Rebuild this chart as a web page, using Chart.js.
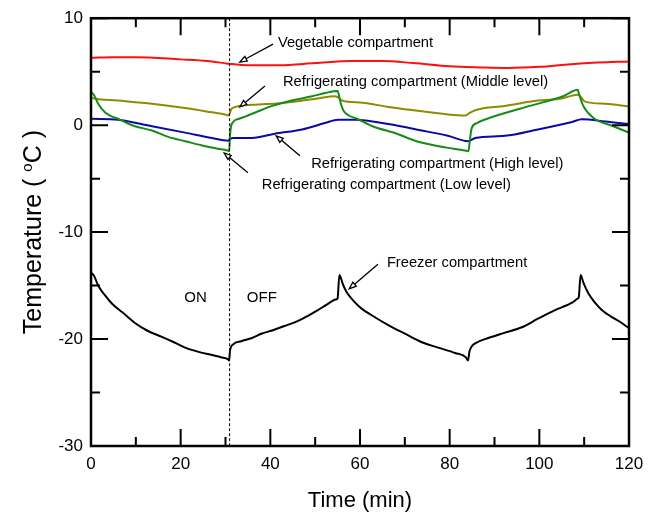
<!DOCTYPE html>
<html>
<head>
<meta charset="utf-8">
<script src="https://cdn.jsdelivr.net/npm/chart.js@4"></script>
<style>
  html, body { margin: 0; padding: 0; background: #fff; }
  #wrap { width: 661px; height: 516px; position: relative; }
</style>
</head>
<body>
<div id="wrap"><canvas id="chart"></canvas></div>
<script>
// time axis ticks (min) and temperature ticks (degC)
const xTicks = [0, 20, 40, 60, 80, 100, 120]
const yTicks = [-30, -20, -10, 0, 10]

// Vegetable compartment
const vegTime = [0, 5, 10, 20, 26, 30.6, 35, 42, 50, 58, 65, 72, 80, 87, 93, 100, 107, 113, 120]
const vegTemp = [6.3, 6.35, 6.35, 6.15, 6.0, 5.75, 5.6, 5.6, 5.8, 6.0, 6.0, 5.8, 5.5, 5.4, 5.35, 5.45, 5.7, 5.85, 5.95]

// Refrigerating compartment (Middle level)
const midTime = [0, 0.7, 6, 13.6, 21, 27, 29.9, 30.6, 31.5, 35.9, 43.3, 50.6, 54.4, 55.1, 56, 60.5, 66.3, 73.8, 79.6, 83.6, 84.3, 85.7, 92.3, 99.7, 105, 108.6, 110.2, 114.7, 120]
const midTemp = [2.6, 2.5, 2.3, 2.0, 1.6, 1.2, 1.0, 0.9, 1.6, 1.9, 2.1, 2.5, 2.7, 2.6, 2.3, 2.1, 1.7, 1.3, 1.0, 0.9, 1.1, 1.4, 1.8, 2.3, 2.5, 2.85, 2.2, 2.0, 1.75]

// Refrigerating compartment (High level)
const highTime = [0, 6, 13.6, 21, 27, 30.6, 31, 31.7, 35.9, 41, 47.1, 52.2, 55.1, 58.9, 66.3, 73.8, 79.6, 84.1, 85.7, 92.3, 99.7, 107.3, 109.5, 114.7, 120]
const highTemp = [0.6, 0.5, -0.1, -0.7, -1.2, -1.45, -1.3, -1.2, -1.2, -0.8, -0.4, 0.2, 0.5, 0.5, 0.1, -0.5, -1.0, -1.5, -1.2, -1.0, -0.4, 0.3, 0.55, 0.35, 0.1]

// Refrigerating compartment (Low level)
const lowTime = [0, 0.7, 1.6, 3.1, 4.7, 6, 8, 9.8, 13.6, 17.2, 21, 24.8, 28.3, 30.3, 30.8, 31, 31.2, 31.7, 33, 34.4, 37.3, 40.4, 44.8, 49.3, 52.2, 55, 55.4, 55.8, 56.4, 57.5, 59.3, 62.8, 68.2, 72.6, 79.3, 83.8, 84.2, 84.5, 84.9, 86.1, 90.5, 97.9, 105.3, 108.6, 108.8, 109.8, 112, 116.5, 120]
const lowTemp = [3.1, 2.8, 2.0, 1.2, 0.8, 0.6, 0.2, -0.1, -0.5, -1.1, -1.5, -1.9, -2.2, -2.35, -2.45, -1.0, -0.2, 0.3, 0.6, 0.8, 1.3, 1.8, 2.3, 2.7, 3.0, 3.2, 2.6, 1.9, 1.3, 0.9, 0.6, -0.1, -0.8, -1.5, -2.1, -2.4, -2.45, -1.4, -0.3, 0.2, 0.9, 1.8, 2.7, 3.3, 3.0, 1.8, 0.7, -0.1, -0.7]

// Freezer compartment
const frzTime = [0, 0.7, 1.6, 3.1, 4.7, 7, 9.8, 12.5, 15.8, 18.5, 21, 24, 27, 29, 30.6, 30.8, 31, 31.7, 33.5, 35.9, 38, 40.4, 43, 46.2, 48.5, 50.6, 52.5, 54.6, 55, 55.4, 56.2, 57, 58.5, 60.5, 62.7, 66.3, 70, 73.8, 77.4, 81.2, 83.6, 84.1, 84.4, 84.9, 85.7, 88.6, 92.3, 96.1, 99.7, 103.5, 107.3, 108.6, 108.8, 109.2, 109.8, 110.9, 112.4, 114, 116, 118.4, 120]
const frzTemp = [-13.8, -14.1, -15.0, -15.9, -16.7, -17.5, -18.5, -19.2, -19.8, -20.3, -20.8, -21.2, -21.5, -21.7, -21.9, -22.0, -21.1, -20.5, -20.2, -19.9, -19.5, -19.2, -18.8, -18.3, -17.8, -17.3, -16.8, -16.3, -16.2, -14.0, -14.9, -15.6, -16.4, -17.2, -17.8, -18.7, -19.5, -20.3, -20.8, -21.3, -21.7, -22.0, -21.2, -20.7, -20.4, -19.9, -19.4, -18.9, -18.1, -17.3, -16.6, -16.2, -16.1, -14.0, -14.7, -15.7, -16.6, -17.3, -17.9, -18.5, -19.0]

// compressor switch time (dashed line)
const switchTime = 30.8

function toPoints(ts, vs) {
  return ts.map((t, i) => ({ x: t, y: vs[i] }))
}

const FONT = 'Arial, "Liberation Sans", sans-serif'

// text labels + arrows, in data units
const notes = [
  { text: 'Vegetable compartment', tx: 41.7, ty: 7.3, from: [40.6, 7.57], to: [33.2, 5.9] },
  { text: 'Refrigerating compartment (Middle level)', tx: 42.8, ty: 3.66, from: [38.8, 3.66], to: [33.2, 1.7] },
  { text: 'Refrigerating compartment (High level)', tx: 49.1, ty: -4.0, from: [46.6, -2.87], to: [41.3, -1.0] },
  { text: 'Refrigerating compartment (Low level)', tx: 38.1, ty: -6.0, from: [35.0, -4.45], to: [29.7, -2.6] },
  { text: 'Freezer compartment', tx: 66.0, ty: -13.3, from: [64.0, -13.0], to: [57.6, -15.3] }
]

function arrow(ctx, x1, y1, x2, y2) {
  const a = Math.atan2(y2 - y1, x2 - x1)
  const len = 7, w = 2.6
  const bx = x2 - len * Math.cos(a), by = y2 - len * Math.sin(a)
  ctx.beginPath()
  ctx.moveTo(x1, y1)
  ctx.lineTo(bx, by)
  ctx.stroke()
  ctx.beginPath()
  ctx.moveTo(x2, y2)
  ctx.lineTo(bx + w * Math.sin(a), by - w * Math.cos(a))
  ctx.lineTo(bx - w * Math.sin(a), by + w * Math.cos(a))
  ctx.closePath()
  ctx.fillStyle = '#fff'
  ctx.fill()
  ctx.stroke()
}

const framePlugin = {
  id: 'frame',
  afterDraw(chart) {
    const ctx = chart.ctx
    const xs = chart.scales.x, ys = chart.scales.y
    const a = chart.chartArea
    ctx.save()

    // dashed on/off line
    ctx.strokeStyle = '#000'
    ctx.lineWidth = 1
    ctx.setLineDash([3, 2])
    ctx.beginPath()
    ctx.moveTo(xs.getPixelForValue(switchTime) + 0.5, a.top)
    ctx.lineTo(xs.getPixelForValue(switchTime) + 0.5, a.bottom)
    ctx.stroke()
    ctx.setLineDash([])

    // inner ticks on all four sides
    ctx.lineWidth = 2
    ctx.beginPath()
    for (let t = 0; t <= 120; t += 10) {
      const x = xs.getPixelForValue(t)
      const l = t % 20 === 0 ? 17 : 9
      ctx.moveTo(x, a.bottom); ctx.lineTo(x, a.bottom - l)
      ctx.moveTo(x, a.top); ctx.lineTo(x, a.top + l)
    }
    for (let v = -30; v <= 10; v += 5) {
      const y = ys.getPixelForValue(v)
      const l = v % 10 === 0 ? 17 : 9
      ctx.moveTo(a.left, y); ctx.lineTo(a.left + l, y)
      ctx.moveTo(a.right, y); ctx.lineTo(a.right - l, y)
    }
    ctx.stroke()

    // frame
    ctx.lineWidth = 2.5
    ctx.strokeRect(a.left, a.top, a.right - a.left, a.bottom - a.top)

    // annotations
    ctx.fillStyle = '#000'
    ctx.font = '14.7px ' + FONT
    ctx.textBaseline = 'alphabetic'
    ctx.textAlign = 'left'
    for (const n of notes) {
      ctx.fillStyle = '#000'
      ctx.fillText(n.text, xs.getPixelForValue(n.tx), ys.getPixelForValue(n.ty))
      ctx.lineWidth = 1.3
      ctx.strokeStyle = '#000'
      arrow(ctx, xs.getPixelForValue(n.from[0]), ys.getPixelForValue(n.from[1]),
        xs.getPixelForValue(n.to[0]), ys.getPixelForValue(n.to[1]))
    }
    ctx.fillStyle = '#000'
    ctx.textAlign = 'center'
    ctx.font = '15px ' + FONT
    ctx.fillText('ON', xs.getPixelForValue(23.3), ys.getPixelForValue(-16.5))
    ctx.fillText('OFF', xs.getPixelForValue(38.1), ys.getPixelForValue(-16.5))

    // axis titles
    ctx.font = '22px ' + FONT
    ctx.fillText('Time (min)', (a.left + a.right) / 2, 507)

    ctx.translate(41, (a.top + a.bottom) / 2)
    ctx.rotate(-Math.PI / 2)
    const big = '25px ' + FONT, small = '15px ' + FONT
    const p1 = 'Temperature ( ', p2 = 'o', p3 = 'C )'
    ctx.font = big
    const w1 = ctx.measureText(p1).width, w3 = ctx.measureText(p3).width
    ctx.font = small
    const w2 = ctx.measureText(p2).width
    let x0 = -(w1 + w2 + w3) / 2
    ctx.textAlign = 'left'
    ctx.font = big
    ctx.fillText(p1, x0, 0)
    ctx.font = small
    ctx.fillText(p2, x0 + w1, -9)
    ctx.font = big
    ctx.fillText(p3, x0 + w1 + w2, 0)
    ctx.restore()
  }
}

new Chart(document.getElementById('chart'), {
  type: 'line',
  data: {
    datasets: [
      { label: 'Low level', data: toPoints(lowTime, lowTemp), borderColor: '#178a17' },
      { label: 'High level', data: toPoints(highTime, highTemp), borderColor: '#0a0aa0' },
      { label: 'Middle level', data: toPoints(midTime, midTemp), borderColor: '#8c8c00' },
      { label: 'Vegetable', data: toPoints(vegTime, vegTemp), borderColor: '#ff1010' },
      { label: 'Freezer', data: toPoints(frzTime, frzTemp), borderColor: '#000000' }
    ]
  },
  options: {
    responsive: true,
    maintainAspectRatio: false,
    animation: false,
    layout: { padding: { top: 17, right: 32, left: 0, bottom: 0 } },
    elements: {
      line: { borderWidth: 2, cubicInterpolationMode: 'monotone' },
      point: { radius: 0 }
    },
    plugins: {
      legend: { display: false },
      tooltip: { enabled: false }
    },
    scales: {
      x: {
        type: 'linear', min: 0, max: 120,
        grid: { display: false, drawTicks: false },
        border: { display: false },
        afterBuildTicks: s => { s.ticks = xTicks.map(v => ({ value: v })) },
        afterFit: s => { s.height = 70 },
        ticks: { color: '#000', padding: 8, maxRotation: 0, font: { size: 17, family: FONT } }
      },
      y: {
        type: 'linear', min: -30, max: 10,
        grid: { display: false, drawTicks: false },
        border: { display: false },
        afterBuildTicks: s => { s.ticks = yTicks.map(v => ({ value: v })) },
        afterFit: s => { s.width = 91 },
        ticks: { color: '#000', padding: 8, font: { size: 17, family: FONT } }
      }
    }
  },
  plugins: [framePlugin]
})
</script>
</body>
</html>
